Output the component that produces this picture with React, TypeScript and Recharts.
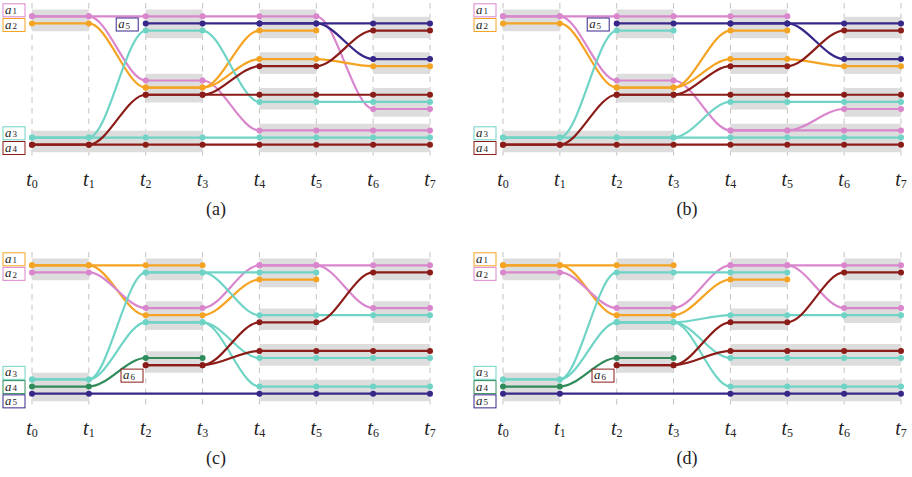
import {
    ComposedChart,
    Line,
    XAxis,
    YAxis,
    CartesianGrid,
    ReferenceArea,
    ReferenceDot,
} from 'recharts';

// time steps t0..t7
const times = [0, 1, 2, 3, 4, 5, 6, 7];

const PINK = '#d986cd';
const ORANGE = '#f5a322';
const TEAL = '#6fd4c6';
const RED = '#8b1c18';
const NAVY = '#372789';
const GREEN = '#2f8b5a';

const colorsAB: Record<number, string> = { 1: PINK, 2: ORANGE, 3: TEAL, 4: RED, 5: NAVY };
const colorsCD: Record<number, string> = { 1: ORANGE, 2: PINK, 3: TEAL, 4: GREEN, 5: NAVY, 6: RED };

// each path: entity, first time step, row (slot) per time step
const pathsA = [
    { who: 1, from: 0, rows: [0, 0, 0, 0, 0, 0, 13, 13] },
    { who: 1, from: 0, rows: [0, 0, 9, 9, 16, 16, 16, 16] },
    { who: 2, from: 0, rows: [1, 1, 10, 10, 6, 6, 7, 7] },
    { who: 2, from: 2, rows: [10, 10, 2, 2] },
    { who: 5, from: 2, rows: [1, 1, 1, 1, 1, 1] },
    { who: 5, from: 4, rows: [1, 1, 6, 6] },
    { who: 3, from: 0, rows: [17, 17, 17, 17, 17, 17, 17, 17] },
    { who: 3, from: 0, rows: [17, 17, 2, 2, 12, 12, 12, 12] },
    { who: 4, from: 0, rows: [18, 18, 18, 18, 18, 18, 18, 18] },
    { who: 4, from: 0, rows: [18, 18, 11, 11, 11, 11, 11, 11] },
    { who: 4, from: 2, rows: [11, 11, 7, 7, 2, 2] },
];

const pathsB = [
    { who: 1, from: 0, rows: [0, 0, 0, 0, 0, 0] },
    { who: 1, from: 0, rows: [0, 0, 9, 9, 16, 16, 16, 16] },
    { who: 1, from: 4, rows: [16, 16, 13, 13] },
    { who: 2, from: 0, rows: [1, 1, 10, 10, 6, 6, 7, 7] },
    { who: 2, from: 2, rows: [10, 10, 2, 2] },
    { who: 5, from: 2, rows: [1, 1, 1, 1, 1, 1] },
    { who: 5, from: 4, rows: [1, 1, 6, 6] },
    { who: 3, from: 0, rows: [17, 17, 17, 17, 17, 17, 17, 17] },
    { who: 3, from: 0, rows: [17, 17, 2, 2] },
    { who: 3, from: 2, rows: [17, 17, 12, 12, 12, 12] },
    { who: 4, from: 0, rows: [18, 18, 18, 18, 18, 18, 18, 18] },
    { who: 4, from: 0, rows: [18, 18, 11, 11, 11, 11, 11, 11] },
    { who: 4, from: 2, rows: [11, 11, 7, 7, 2, 2] },
];

const pathsC = [
    { who: 1, from: 0, rows: [0, 0, 0, 0] },
    { who: 1, from: 0, rows: [0, 0, 7, 7, 2, 2] },
    { who: 2, from: 0, rows: [1, 1, 6, 6, 0, 0, 0, 0] },
    { who: 2, from: 4, rows: [0, 0, 6, 6] },
    { who: 3, from: 0, rows: [16, 16, 1, 1, 1, 1] },
    { who: 3, from: 0, rows: [16, 16, 8, 8, 13, 13, 13, 13] },
    { who: 3, from: 2, rows: [8, 8, 17, 17, 17, 17] },
    { who: 3, from: 2, rows: [1, 1, 7, 7, 7, 7] },
    { who: 4, from: 0, rows: [17, 17, 13, 13] },
    { who: 5, from: 0, rows: [18, 18, null, null, 18, 18, 18, 18] },
    { who: 6, from: 2, rows: [14, 14, 8, 8, 1, 1] },
    { who: 6, from: 2, rows: [14, 14, 12, 12, 12, 12] },
];

const pathsD = [
    { who: 1, from: 0, rows: [0, 0, 0, 0] },
    { who: 1, from: 0, rows: [0, 0, 7, 7, 2, 2] },
    { who: 2, from: 0, rows: [1, 1, 6, 6, 0, 0, 0, 0] },
    { who: 2, from: 4, rows: [0, 0, 6, 6] },
    { who: 3, from: 0, rows: [16, 16, 1, 1, 1, 1] },
    { who: 3, from: 0, rows: [16, 16, 8, 8, 13, 13, 13, 13] },
    { who: 3, from: 2, rows: [8, 8, 17, 17, 17, 17] },
    { who: 3, from: 2, rows: [8, 8, 7, 7, 7, 7] },
    { who: 4, from: 0, rows: [17, 17, 13, 13] },
    { who: 5, from: 0, rows: [18, 18, null, null, 18, 18, 18, 18] },
    { who: 6, from: 2, rows: [14, 14, 8, 8, 1, 1] },
    { who: 6, from: 2, rows: [14, 14, 12, 12, 12, 12] },
];

// groups: [from t, to t, first row, last row]
const boxesAB = [
    [0, 1, 0, 1], [2, 3, 0, 2], [2, 3, 9, 11], [0, 3, 17, 18],
    [4, 5, 0, 2], [4, 5, 6, 7], [4, 5, 11, 12], [4, 7, 16, 18],
    [6, 7, 1, 2], [6, 7, 6, 7], [6, 7, 11, 13],
];
const boxesCD = [
    [0, 1, 0, 1], [0, 1, 16, 18], [2, 3, 0, 1], [2, 3, 6, 8], [2, 3, 13, 14],
    [4, 5, 0, 2], [4, 5, 7, 8], [4, 7, 12, 13], [4, 7, 17, 18],
    [6, 7, 0, 1], [6, 7, 6, 7],
];

// entity labels: entity, time step, row
const labelsAB = [
    { who: 1, t: 0, row: -0.84 },
    { who: 2, t: 0, row: 1.22 },
    { who: 3, t: 0, row: 16.41 },
    { who: 4, t: 0, row: 18.47 },
    { who: 5, t: 2, row: 1.15 },
];
const labelsCD = [
    { who: 1, t: 0, row: -0.84 },
    { who: 2, t: 0, row: 1.2 },
    { who: 3, t: 0, row: 15.08 },
    { who: 4, t: 0, row: 17.08 },
    { who: 5, t: 0, row: 19.08 },
    { who: 6, t: 2, row: 15.47 },
];

const SERIF = '"Liberation Serif", "DejaVu Serif", serif';

const TimeTick = (props: any) => {
    const { x, y, payload } = props;
    return (
        <text x={x} y={y + 29} textAnchor="middle" fontFamily={SERIF} fill="#222">
            <tspan fontSize={20} fontStyle="italic">t</tspan>
            <tspan fontSize={12} dy={2}>{payload.value}</tspan>
        </text>
    );
};

const labelShape = (who: number, color: string, dx: number) => (p: any) => {
    const right = p.cx + dx;
    return (
        <g>
            <rect x={right - 22} y={p.cy - 6.5} width={22} height={13} fill="#fff" stroke={color} strokeWidth={1} />
            <text x={right - 20} y={p.cy + 3.6} fontFamily={SERIF} fontSize={12.8} fontStyle="italic" fill="#222">
                a
            </text>
            <text x={right - 12.6} y={p.cy + 4.1} fontFamily={SERIF} fontSize={9} fill="#222">
                {who}
            </text>
        </g>
    );
};

const Panel = ({ left, top, caption, paths, boxes, labels, colors }: any) => (
    <div style={{ position: 'absolute', left, top, width: 460, height: 228 }}>
        <ComposedChart width={460} height={200} margin={{ top: 3, right: 30, bottom: 13, left: 32 }}>
            <CartesianGrid horizontal={false} stroke="#c2c2c2" strokeDasharray="5.5 5" />
            <XAxis
                type="number"
                dataKey="t"
                domain={[0, 7]}
                ticks={times}
                interval={0}
                axisLine={false}
                tickLine={false}
                tickSize={0}
                tickMargin={0}
                height={30}
                tick={<TimeTick />}
            />
            <YAxis type="number" dataKey="row" domain={[-1.865, 19.73]} reversed hide allowDataOverflow />
            {boxes.map((b: number[], i: number) => (
                <ReferenceArea
                    key={'b' + i}
                    x1={b[0]}
                    x2={b[1]}
                    y1={b[2] - 0.95}
                    y2={b[3] + 1.08}
                    fill="#dddddd"
                    fillOpacity={1}
                    stroke="none"
                    ifOverflow="visible"
                />
            ))}
            {paths.map((p: any, i: number) => (
                <Line
                    key={'p' + i}
                    data={p.rows.map((row: number | null, k: number) => ({ t: p.from + k, row }))}
                    dataKey="row"
                    type="monotoneX"
                    stroke={colors[p.who]}
                    strokeWidth={2.2}
                    dot={{ r: 3, fill: colors[p.who], stroke: 'none' }}
                    activeDot={false}
                    connectNulls
                    isAnimationActive={false}
                />
            ))}
            {labels.map((l: any, i: number) => (
                <ReferenceDot
                    key={'l' + i}
                    x={l.t}
                    y={l.row}
                    ifOverflow="visible"
                    shape={labelShape(l.who, colors[l.who], l.t === 0 ? -7 : l.who === 6 ? -2.7 : -7.5)}
                />
            ))}
        </ComposedChart>
        <div
            style={{
                position: 'absolute',
                left: 0,
                top: 198,
                width: 432,
                lineHeight: '22px',
                textAlign: 'center',
                fontFamily: SERIF,
                fontSize: 18,
                color: '#222',
            }}
        >
            {caption}
        </div>
    </div>
);

const App = () => (
    <div style={{ position: 'relative', width: 912, height: 477, background: '#fff' }}>
        <style>{'body{margin:0}'}</style>
        <Panel left={0} top={0} caption="(a)" paths={pathsA} boxes={boxesAB} labels={labelsAB} colors={colorsAB} />
        <Panel left={471} top={0} caption="(b)" paths={pathsB} boxes={boxesAB} labels={labelsAB} colors={colorsAB} />
        <Panel left={0} top={249.4} caption="(c)" paths={pathsC} boxes={boxesCD} labels={labelsCD} colors={colorsCD} />
        <Panel left={471} top={249.4} caption="(d)" paths={pathsD} boxes={boxesCD} labels={labelsCD} colors={colorsCD} />
    </div>
);

export default App;
